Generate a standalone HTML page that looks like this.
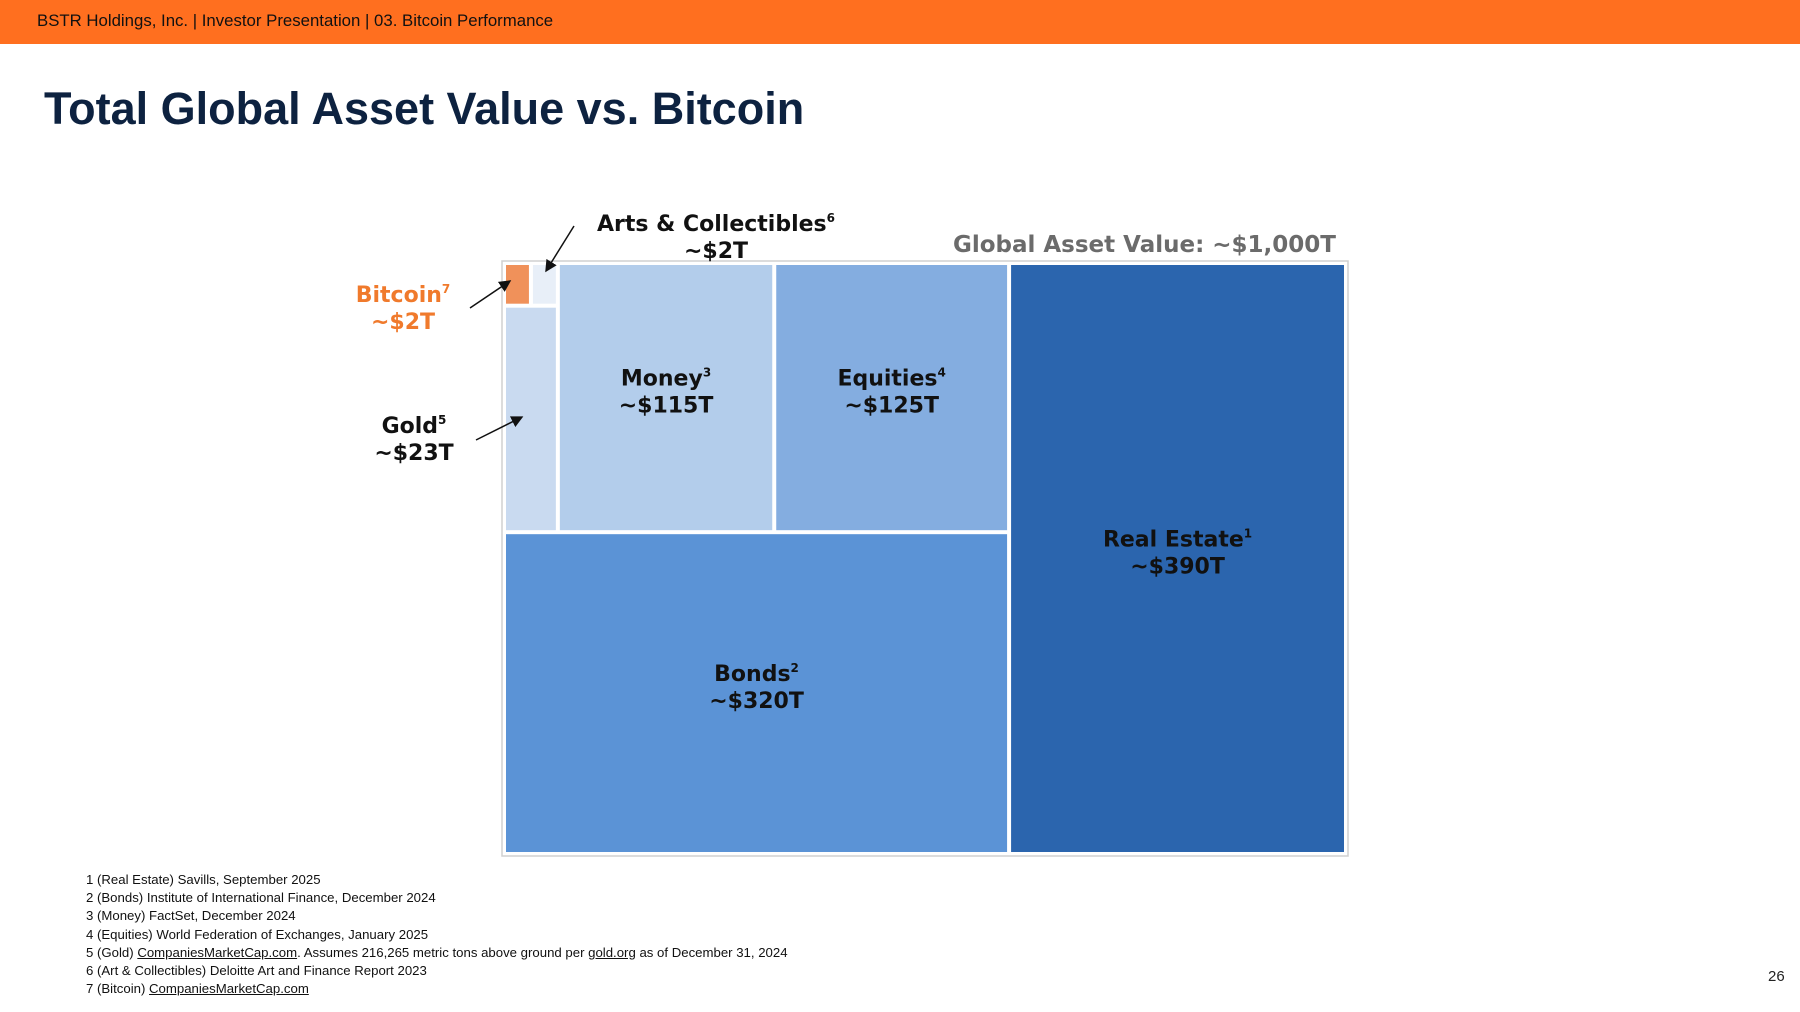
<!DOCTYPE html>
<html><head><meta charset="utf-8"><style>
html,body{margin:0;padding:0;background:#fff;}
body{width:1800px;height:1012px;position:relative;overflow:hidden;font-family:"Liberation Sans",sans-serif;}
#hdr{position:absolute;left:0;top:0;width:1800px;height:44px;background:#ff6f1f;}
#hdr span{position:absolute;left:37px;top:11px;font-size:16.8px;color:#111;}
#title{position:absolute;left:44px;top:83px;font-size:45px;font-weight:bold;color:#0d2240;margin:0;}
#notes{position:absolute;left:86px;top:871px;font-size:13.2px;line-height:18.2px;color:#111;}
#notes u{text-decoration:underline;}
#pg{position:absolute;left:1768px;top:968px;font-size:15px;color:#222;}
svg{position:absolute;left:0;top:0;}
.lbl{font-family:"DejaVu Sans",sans-serif;font-weight:bold;font-size:22px;text-anchor:middle;}
</style></head><body>
<div id="hdr"><span>BSTR Holdings, Inc. | Investor Presentation | 03. Bitcoin Performance</span></div>
<h1 id="title">Total Global Asset Value vs. Bitcoin</h1>
<svg id="chart" width="1800" height="1012">
<defs><marker id="ah" markerWidth="8" markerHeight="8" refX="7" refY="4" orient="auto"><path d="M0,0 L8,4 L0,8 z" fill="#111"/></marker></defs>
<rect x="502" y="261" width="846" height="595" fill="#fff" stroke="#d0d0d0" stroke-width="1.5"/>
<g id="cells"></g>
<g id="labels"></g>
<text x="1336" y="252" class="lbl" style="text-anchor:end;fill:#6b6b6b;font-size:23px">Global Asset Value: ~$1,000T</text>
<line x1="574" y1="226" x2="546" y2="271" stroke="#111" stroke-width="1.5" marker-end="url(#ah)"/>
<line x1="470" y1="308" x2="510" y2="281" stroke="#111" stroke-width="1.5" marker-end="url(#ah)"/>
<line x1="476" y1="440" x2="522" y2="417" stroke="#111" stroke-width="1.5" marker-end="url(#ah)"/>
</svg>
<div id="notes">
1 (Real Estate) Savills, September 2025<br>
2 (Bonds) Institute of International Finance, December 2024<br>
3 (Money) FactSet, December 2024<br>
4 (Equities) World Federation of Exchanges, January 2025<br>
5 (Gold) <u>CompaniesMarketCap.com</u>. Assumes 216,265 metric tons above ground per <u>gold.org</u> as of December 31, 2024<br>
6 (Art &amp; Collectibles) Deloitte Art and Finance Report 2023<br>
7 (Bitcoin) <u>CompaniesMarketCap.com</u>
</div>
<div id="pg">26</div>
<script>
const categories = ["Real Estate","Bonds","Money","Equities","Gold","Arts & Collectibles","Bitcoin"];
const values = [390, 320, 115, 125, 23, 2, 2];
const valueLabels = ["~$390T","~$320T","~$115T","~$125T","~$23T","~$2T","~$2T"];
const notes = ["1","2","3","4","5","6","7"];
const colors = ["#2b65ae","#5b93d6","#b3cdeb","#84ade0","#c9daf0","#e8eff8","#f0915a"];
(function(){
const NS="http://www.w3.org/2000/svg";
const X0=506,Y0=265,W=838,H=587,G=4;
const total=values.reduce((a,b)=>a+b,0);
const boxes=[];
const wRE=(W-G)*values[0]/total;
boxes[0]=[X0+W-wRE,Y0,wRE,H];
const LW=W-G-wRE;
const rest=total-values[0];
const hB=(H-G)*values[1]/rest;
boxes[1]=[X0,Y0+H-hB,LW,hB];
const TH=H-G-hB;
const topSum=values[2]+values[3]+values[4]+values[5]+values[6];
const avail=LW-2*G;
const wSmall=avail*(values[4]+values[5]+values[6])/topSum;
const wM=avail*values[2]/topSum, wE=avail*values[3]/topSum;
boxes[2]=[X0+wSmall+G,Y0,wM,TH];
boxes[3]=[X0+wSmall+G+wM+G,Y0,wE,TH];
const sm=values[4]+values[5]+values[6];
const hTiny=(TH-G)*(values[5]+values[6])/sm;
boxes[4]=[X0,Y0+hTiny+G,wSmall,TH-G-hTiny];
const wBtc=(wSmall-G)*values[6]/(values[5]+values[6]);
boxes[6]=[X0,Y0,wBtc,hTiny];
boxes[5]=[X0+wBtc+G,Y0,wSmall-G-wBtc,hTiny];
const cells=document.getElementById('cells');
categories.forEach((c,i)=>{
  const b=boxes[i];
  const r=document.createElementNS(NS,'rect');
  r.setAttribute('x',b[0]);r.setAttribute('y',b[1]);r.setAttribute('width',b[2]);r.setAttribute('height',b[3]);
  r.setAttribute('fill',colors[i]);
  
  
  cells.appendChild(r);
});
const labels=document.getElementById('labels');
function addLabel(i,cx,y1,fill){
  const t=document.createElementNS(NS,'text');
  t.setAttribute('class','lbl');t.setAttribute('x',cx);t.setAttribute('y',y1);t.setAttribute('fill',fill);
  
  
  const s1=document.createElementNS(NS,'tspan');s1.textContent=categories[i];
  const s2=document.createElementNS(NS,'tspan');s2.textContent=notes[i];s2.setAttribute('font-size','12');s2.setAttribute('dy','-9');
  const s3=document.createElementNS(NS,'tspan');s3.textContent=valueLabels[i];s3.setAttribute('x',cx);s3.setAttribute('dy','36');
  t.appendChild(s1);t.appendChild(s2);t.appendChild(s3);
  labels.appendChild(t);
}
[0,1,2,3].forEach(i=>{const b=boxes[i];addLabel(i,b[0]+b[2]/2,b[1]+b[3]/2-12,"#111");});
addLabel(5,716,231,"#111");
addLabel(6,403,302,"#f07a2c");
addLabel(4,414,433,"#111");
})();
</script>
</body></html>
